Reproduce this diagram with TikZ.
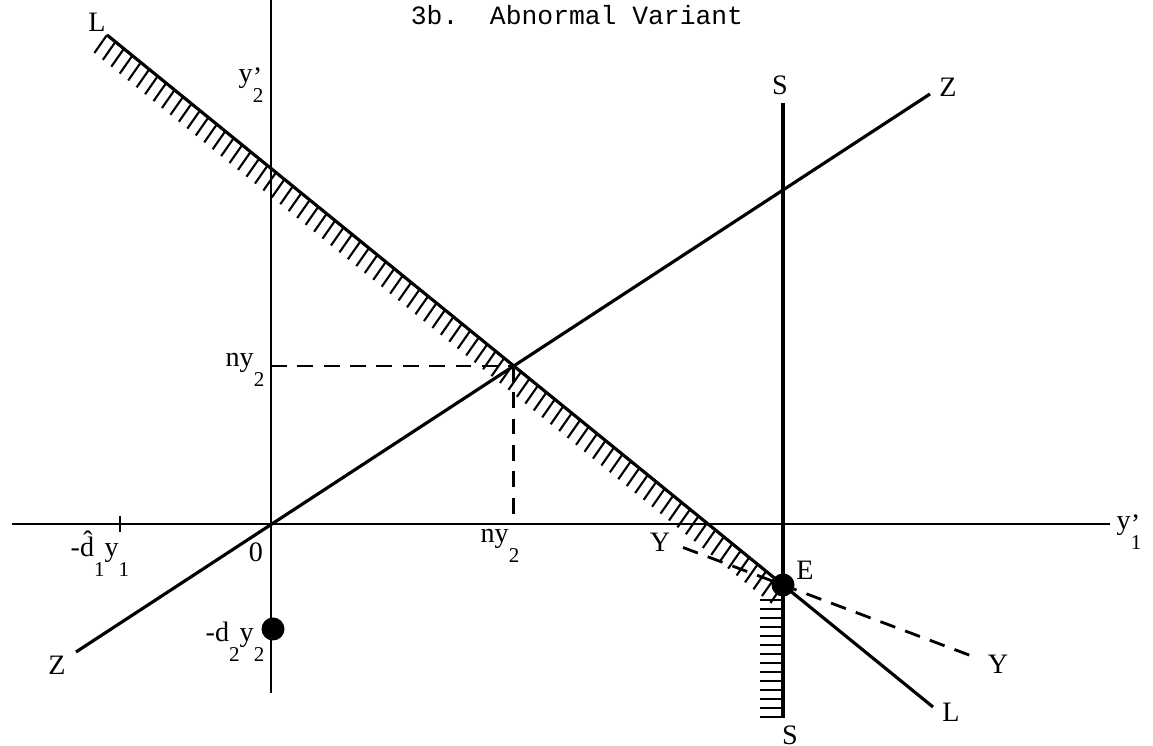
\documentclass[tikz,border=0pt]{standalone}
\usepackage{fontspec}
\setmainfont{Liberation Serif}
\newfontfamily\typew{Liberation Mono}
\usetikzlibrary{calc}
% lowered typewriter-style subscript, and prime over subscript
\newcommand{\dn}[1]{\raisebox{-5.5pt}{\fontsize{6}{6}\selectfont #1}}
\newcommand{\pdn}[1]{\rlap{\raisebox{-1pt}{'}}\dn{#1}}

\begin{document}
\begin{tikzpicture}[
    x=1cm, y=1cm,
    axis/.style={line width=0.8pt},
    ln/.style={line width=0.9pt},
    dsh/.style={line width=0.8pt, dash pattern=on 4.5pt off 3pt},
    hatch/.style={line width=0.6pt},
    lbl/.style={font=\fontsize{8}{9}\selectfont, inner sep=0pt},
    dot/.style={circle, fill=black, inner sep=0pt, minimum size=2.3mm},
  ]
    \useasboundingbox (-2.71,-2.22) rectangle (8.82,5.24);

    % ===== TITLE =====
    \node[lbl, font=\typew\fontsize{7.5}{9}\selectfont, anchor=base] (title) at (3.06,4.99) {3b.\ \ Abnormal Variant};

    % ===== AXES =====
    \coordinate (O) at (0,0);
    \coordinate (Xl) at (-2.59,0);
    \coordinate (Xr) at (8.39,0);
    \coordinate (Vt) at (0,5.24);
    \coordinate (Vb) at (0,-1.69);
    \draw[axis] (Xl) -- (Xr);
    \draw[axis] (Vt) -- (Vb);

    % tick at -d1 y1
    \coordinate (T) at (-1.51,0);
    \draw[axis] ($(T)+(0,0.08)$) -- ($(T)+(0,-0.08)$);

    \node[lbl, anchor=base west] (y1p) at (8.45,-0.06) {y\pdn{1}};
    \node[lbl, anchor=base east] (y2p) at (-0.07,4.41) {y\pdn{2}};
    \node[lbl, anchor=base] (orig) at (-0.15,-0.38) {0};
    \node[lbl, anchor=base] (d1y1) at (-1.71,-0.33) {-\^{d}\dn{1}y\dn{1}};

    % ===== LINES Z, L, S, Y =====
    \coordinate (Zlo) at (-1.95,-1.28);
    \coordinate (Zhi) at (6.59,4.30);
    \coordinate (Ltop) at (-1.64,4.89);
    \coordinate (E) at (5.12,-0.61);
    \coordinate (Lend) at (6.62,-1.83);
    \coordinate (Stop) at (5.12,4.21);
    \coordinate (Sbot) at (5.12,-1.94);
    \coordinate (Ylo) at ($(E)+(-1.0,0.375)$);
    \coordinate (Yhi) at ($(E)+(1.94,-0.73)$);
    \coordinate (P) at (intersection of Ltop--E and Zlo--Zhi);

    \draw[ln] (Zlo) -- (Zhi);
    \draw[ln] (Ltop) -- (E) -- (Lend);
    \draw[ln] (Stop) -- (Sbot);
    \draw[dsh] (Ylo) -- (E) -- (Yhi);

    % hatching below L, then left of S
    \foreach \k in {0,...,80}{
      \pgfmathsetmacro{\t}{\k/80}
      \draw[hatch] ($(Ltop)!\t!(E)$) -- ++(235:0.22);
    }
    \foreach \k in {0,...,13}{
      \pgfmathsetmacro{\hy}{-0.15 - \k*0.09}
      \draw[hatch] ($(E)+(0,\hy)$) -- ++(-0.23,0);
    }

    % ===== ny2 PROJECTIONS =====
    \draw[dsh] (O |- P) -- (P);
    \draw[dsh] (P) -- (P |- O);
    \node[lbl, anchor=base east] (ny2l) at (-0.06,1.57) {ny\dn{2}};
    \node[lbl, anchor=base] (ny2b) at (2.29,-0.19) {ny\dn{2}};

    % ===== POINTS =====
    \node[dot] (Edot) at (E) {};
    \node[dot] (D) at (0.02,-1.05) {};
    \node[lbl, anchor=base east] (d2y2) at (-0.06,-1.18) {-d\dn{2}y\dn{2}};

    % ===== LINE LABELS =====
    \node[lbl, anchor=base] (Lt) at (-1.74,4.92) {L};
    \node[lbl, anchor=base] (Lb) at (6.80,-1.98) {L};
    \node[lbl, anchor=base] (St) at (5.09,4.29) {S};
    \node[lbl, anchor=base] (Sb) at (5.19,-2.21) {S};
    \node[lbl, anchor=base] (Zt) at (6.77,4.27) {Z};
    \node[lbl, anchor=base] (Zb) at (-2.14,-1.51) {Z};
    \node[lbl, anchor=base] (Yl) at (3.89,-0.28) {Y};
    \node[lbl, anchor=base] (Yr) at (7.27,-1.50) {Y};
    \node[lbl, anchor=base] (El) at (5.34,-0.56) {E};

  \end{tikzpicture}
\end{document}
